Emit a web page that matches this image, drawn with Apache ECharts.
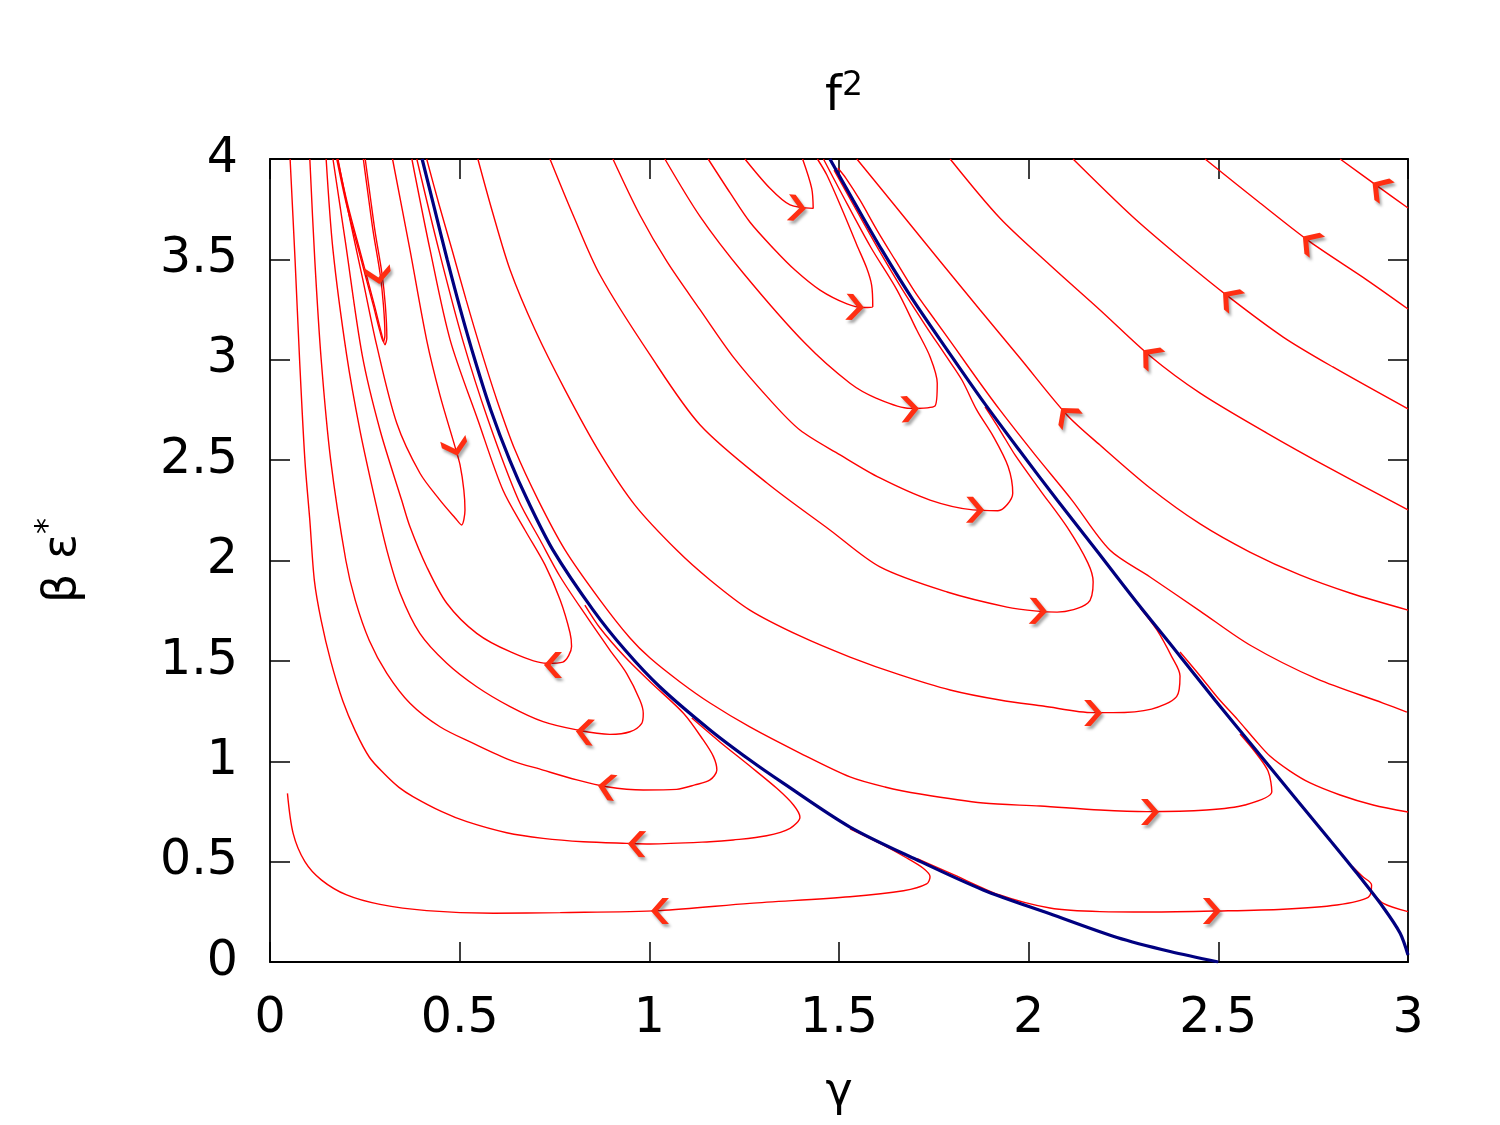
<!DOCTYPE html>
<html>
<head>
<meta charset="UTF-8">
<title>f2 flow</title>
<script src="https://cdn.jsdelivr.net/npm/echarts@6/dist/echarts.min.js"></script>
<style>
  html, body { margin: 0; padding: 0; background: #fff; }
  #main { width: 1500px; height: 1125px; }
</style>
</head>
<body>
<div id="main"></div>
<script>
// axis ticks
var xTicks = [0, 0.5, 1, 1.5, 2, 2.5, 3];
var yTicks = [0, 0.5, 1, 1.5, 2, 2.5, 3, 3.5, 4];

// separatrices (blue)
var sepLeft = [[0.401,4.0],[0.434,3.75],[0.467,3.5],[0.502,3.25],[0.540,3.0],[0.582,2.75],[0.632,2.5],[0.679,2.3],[0.746,2.052],[0.852,1.753],[0.936,1.554],[1.028,1.370],[1.160,1.156],[1.265,1.006],[1.352,0.892],[1.529,0.672],[1.706,0.508],[1.880,0.359],[2.056,0.240],[2.233,0.122],[2.373,0.052],[2.5,0.0]];
var sepRight = [[1.476,4.0],[1.537,3.796],[1.613,3.547],[1.695,3.298],[1.785,3.049],[1.877,2.800],[1.975,2.550],[2.075,2.301],[2.178,2.052],[2.280,1.803],[2.386,1.554],[2.491,1.305],[2.599,1.056],[2.707,0.807],[2.794,0.608],[2.865,0.443],[2.934,0.274],[2.979,0.144],[3.0,0.035]];

// trajectories left of the first separatrix
var trajL1 = [[0.176,4.0],[0.202,3.771],[0.237,3.522],[0.272,3.273],[0.290,3.140],[0.299,3.090],[0.303,3.123],[0.299,3.273],[0.290,3.431],[0.272,3.638],[0.259,3.817],[0.246,4.0]];
var trajL1b = [[0.178,4.0],[0.205,3.771],[0.240,3.522],[0.275,3.273],[0.294,3.130],[0.303,3.075],[0.308,3.110],[0.304,3.273],[0.295,3.431],[0.277,3.638],[0.264,3.817],[0.251,4.0]];
var trajL2 = [[0.179,4.0],[0.211,3.696],[0.245,3.397],[0.281,3.074],[0.334,2.685],[0.395,2.436],[0.448,2.301],[0.488,2.212],[0.505,2.177],[0.514,2.252],[0.511,2.351],[0.501,2.476],[0.488,2.565],[0.448,2.824],[0.413,3.098],[0.369,3.547],[0.323,4.0]];
var trajL3 = [[0.166,4.0],[0.198,3.597],[0.243,3.024],[0.290,2.650],[0.347,2.301],[0.369,2.168],[0.413,1.969],[0.466,1.787],[0.545,1.637],[0.633,1.546],[0.729,1.488],[0.772,1.494],[0.795,1.571],[0.791,1.639],[0.765,1.803],[0.725,1.978],[0.672,2.152],[0.614,2.351],[0.548,2.700],[0.475,3.098],[0.422,3.547],[0.374,4.0]];
var trajL4 = [[0.148,4.0],[0.166,3.547],[0.202,3.024],[0.237,2.650],[0.277,2.301],[0.308,2.052],[0.343,1.837],[0.395,1.637],[0.466,1.488],[0.545,1.371],[0.633,1.272],[0.720,1.197],[0.809,1.156],[0.896,1.134],[0.949,1.147],[0.980,1.189],[0.984,1.239],[0.975,1.305],[0.940,1.438],[0.896,1.554],[0.835,1.720],[0.765,1.919],[0.712,2.102],[0.655,2.301],[0.575,2.700],[0.508,3.098],[0.445,3.547],[0.387,4.0]];
var trajL5 = [[0.105,4.0],[0.118,3.5],[0.135,3.0],[0.160,2.5],[0.200,2.0],[0.225,1.8],[0.262,1.6],[0.308,1.438],[0.369,1.289],[0.448,1.172],[0.536,1.089],[0.633,1.006],[0.720,0.956],[0.809,0.907],[0.888,0.873],[0.984,0.857],[1.072,0.860],[1.120,0.882],[1.160,0.907],[1.178,0.956],[1.169,1.023],[1.142,1.106],[1.090,1.239],[1.002,1.396],[0.936,1.519],[0.870,1.664],[0.830,1.778]];
var trajL6 = [[0.053,4.0],[0.066,3.5],[0.078,3.0],[0.092,2.5],[0.105,2.2],[0.117,1.9],[0.135,1.7],[0.160,1.5],[0.192,1.3],[0.225,1.15],[0.262,1.02],[0.300,0.94],[0.340,0.87],[0.378,0.823],[0.453,0.749],[0.519,0.699],[0.624,0.644],[0.720,0.616],[0.826,0.599],[0.940,0.591],[1.002,0.588],[1.160,0.599],[1.221,0.608],[1.309,0.629],[1.371,0.666],[1.397,0.721],[1.380,0.782],[1.336,0.865],[1.265,0.976],[1.186,1.096],[1.112,1.215]];
var trajL7 = [[0.046,0.840],[0.061,0.641],[0.092,0.500],[0.136,0.408],[0.202,0.334],[0.290,0.287],[0.413,0.256],[0.589,0.243],[0.765,0.246],[1.028,0.256],[1.265,0.292],[1.529,0.325],[1.670,0.355],[1.731,0.389],[1.740,0.425],[1.722,0.467],[1.674,0.523],[1.616,0.583],[1.529,0.663]];

// trajectories between the separatrices
var trajM1 = [[1.252,4.0],[1.318,3.854],[1.371,3.771],[1.432,3.754],[1.428,3.854],[1.404,4.0]];
var trajM2 = [[1.155,4.0],[1.213,3.831],[1.265,3.686],[1.326,3.557],[1.384,3.447],[1.450,3.347],[1.521,3.278],[1.563,3.260],[1.589,3.264],[1.586,3.372],[1.573,3.457],[1.547,3.572],[1.511,3.736],[1.468,3.920],[1.443,4.0]];
var trajM3 = [[1.041,4.0],[1.134,3.713],[1.248,3.431],[1.410,3.083],[1.529,2.883],[1.599,2.808],[1.687,2.758],[1.753,2.770],[1.759,2.883],[1.740,3.015],[1.705,3.148],[1.653,3.347],[1.583,3.563],[1.503,3.842],[1.459,4.0]];
var trajM4 = [[0.904,4.0],[0.975,3.721],[1.047,3.487],[1.134,3.248],[1.221,3.014],[1.318,2.800],[1.397,2.650],[1.503,2.526],[1.608,2.411],[1.740,2.301],[1.853,2.252],[1.919,2.248],[1.958,2.335],[1.946,2.467],[1.907,2.617],[1.863,2.750],[1.824,2.899],[1.782,3.019],[1.729,3.168],[1.666,3.353],[1.608,3.537],[1.550,3.731],[1.487,3.945]];
var trajM5 = [[0.738,4.0],[0.799,3.721],[0.870,3.422],[1.002,3.024],[1.134,2.675],[1.310,2.386],[1.476,2.152],[1.608,1.968],[1.785,1.843],[1.943,1.768],[2.022,1.748],[2.075,1.743],[2.156,1.788],[2.170,1.893],[2.156,1.988],[2.101,2.167],[2.030,2.351],[1.964,2.526],[1.924,2.650],[1.885,2.765]];
var trajM6 = [[0.548,4.0],[0.585,3.746],[0.633,3.447],[0.699,3.148],[0.778,2.849],[0.870,2.535],[0.962,2.276],[1.072,2.052],[1.160,1.903],[1.265,1.753],[1.397,1.624],[1.529,1.519],[1.661,1.430],[1.793,1.355],[1.924,1.305],[2.038,1.275],[2.170,1.242],[2.222,1.242],[2.324,1.260],[2.390,1.322],[2.399,1.425],[2.377,1.521],[2.338,1.654],[2.294,1.763]];
var trajM7 = [[0.413,4.0],[0.446,3.771],[0.480,3.547],[0.517,3.298],[0.556,3.049],[0.598,2.800],[0.646,2.550],[0.707,2.301],[0.778,2.052],[0.870,1.803],[0.949,1.614],[1.002,1.514],[1.081,1.395],[1.160,1.290],[1.265,1.171],[1.397,1.041],[1.529,0.922],[1.621,0.872],[1.714,0.837],[1.880,0.792],[2.030,0.777],[2.188,0.757],[2.311,0.749],[2.469,0.757],[2.570,0.782],[2.641,0.848],[2.631,0.951],[2.597,1.046],[2.557,1.136]];
var trajM8 = [[1.706,0.515],[1.793,0.443],[1.924,0.334],[2.056,0.269],[2.188,0.251],[2.320,0.249],[2.496,0.254],[2.671,0.263],[2.812,0.284],[2.895,0.322],[2.904,0.384],[2.881,0.425],[2.854,0.475]];

// trajectories right of the second separatrix
var trajR1 = [[3.0,0.251],[2.935,0.292],[2.904,0.351],[2.878,0.408]];
var trajR2 = [[3.0,0.747],[2.908,0.782],[2.821,0.832],[2.742,0.892],[2.689,0.951],[2.636,1.026],[2.597,1.106],[2.552,1.205],[2.499,1.315],[2.452,1.425],[2.399,1.544]];
var trajR3 = [[2.997,1.245],[2.934,1.290],[2.760,1.410],[2.583,1.579],[2.452,1.748],[2.320,1.918],[2.214,2.052],[2.114,2.301],[2.017,2.526],[1.924,2.750],[1.866,2.899],[1.806,3.059],[1.753,3.198],[1.700,3.338],[1.648,3.497],[1.600,3.646],[1.555,3.796],[1.518,3.905],[1.497,3.955]];
var trajR4 = [[1.547,4.0],[1.661,3.736],[1.766,3.492],[1.872,3.248],[1.977,3.009],[2.101,2.725],[2.188,2.575],[2.320,2.361],[2.452,2.182],[2.583,2.042],[2.715,1.928],[2.847,1.838],[3.0,1.753]];
var trajR5 = [[1.793,4.0],[1.924,3.706],[2.056,3.472],[2.188,3.248],[2.320,3.019],[2.452,2.834],[2.628,2.635],[2.802,2.451],[3.0,2.252]];
var trajR6 = [[2.117,4.0],[2.275,3.711],[2.407,3.497],[2.531,3.308],[2.671,3.113],[2.802,2.964],[3.0,2.755]];
var trajR7 = [[2.465,4.0],[2.610,3.781],[2.742,3.587],[2.892,3.397],[3.0,3.253]];
var trajR8 = [[2.821,4.0],[2.926,3.856],[3.0,3.756]];

// arrow heads: [gamma, beta, direction in degrees]
var arrowsLeft = [[0.285,3.422,-82],[0.488,2.565,-75],[0.746,1.479,180],[0.830,1.146,175],[0.888,0.872,172],[0.967,0.588,178],[1.028,0.254,180]];
var arrowsMid = [[1.389,3.756,-5],[1.542,3.262,-3],[1.687,2.755,3],[1.859,2.252,-1],[2.025,1.748,-2],[2.170,1.240,0],[2.320,0.747,0],[2.483,0.254,0]];
var arrowsRight = [[2.101,2.725,129],[2.320,3.019,140],[2.531,3.308,142],[2.742,3.587,144],[2.926,3.856,145]];

var redCurves = [trajL1, trajL1b, trajL2, trajL3, trajL4, trajL5, trajL6, trajL7,
                 trajM1, trajM2, trajM3, trajM4, trajM5, trajM6, trajM7, trajM8,
                 trajR1, trajR2, trajR3, trajR4, trajR5, trajR6, trajR7, trajR8];
var blueCurves = [sepLeft, sepRight];
var arrows = arrowsLeft.concat(arrowsMid, arrowsRight);

var font = 'DejaVu Sans';
var chart = echarts.init(document.getElementById('main'));

var series = [];
redCurves.forEach(function (c) {
    series.push({
        type: 'line', data: c, showSymbol: false, smooth: 0.3, silent: true,
        lineStyle: { color: '#ff0000', width: 1.4 }, z: 2
    });
});
blueCurves.forEach(function (c) {
    series.push({
        type: 'line', data: c, showSymbol: false, smooth: 0.3, silent: true,
        lineStyle: { color: '#000080', width: 3.2 }, z: 3
    });
});
// arrow heads (chevron pointing right, rotated per point)
series.push({
    type: 'scatter', silent: true, z: 4,
    symbol: 'path://M0,0 L7,0 L19,13 L7,26 L0,26 L12,13 Z',
    symbolSize: [18, 26],
    itemStyle: {
        color: '#ff2e12', opacity: 1, shadowBlur: 3, shadowColor: 'rgba(0,0,0,0.35)',
        shadowOffsetX: 2, shadowOffsetY: 3
    },
    data: arrows.map(function (a) {
        return { value: [a[0], a[1]], symbolRotate: a[2] };
    })
});

function valueAxis(pos, ticks, show, margin) {
    return {
        type: 'value', position: pos,
        min: ticks[0], max: ticks[ticks.length - 1], interval: ticks[1] - ticks[0],
        axisLine: { show: true, onZero: false, lineStyle: { color: '#000', width: 1.8 } },
        axisTick: { show: true, inside: true, length: 20, lineStyle: { color: '#000', width: 1.5 } },
        axisLabel: { show: show, fontSize: 49, fontFamily: font, color: '#000', margin: margin },
        splitLine: { show: false }
    };
}

var xBottom = valueAxis('bottom', xTicks, true, 33);
xBottom.name = 'γ';
xBottom.nameLocation = 'middle';
xBottom.nameGap = 108;
xBottom.nameTextStyle = { fontSize: 46, fontFamily: font, color: '#000' };
var yLeft = valueAxis('left', yTicks, true, 32);
yLeft.name = '{a|β ε}{s|*}';
yLeft.nameLocation = 'middle';
yLeft.nameGap = 177;
yLeft.nameRotate = 90;
yLeft.nameTextStyle = {
    rich: {
        a: { fontSize: 46, fontFamily: font, color: '#000', lineHeight: 60 },
        s: { fontSize: 32, fontFamily: font, color: '#000', verticalAlign: 'top', lineHeight: 32 }
    }
};

chart.setOption({
    animation: false,
    backgroundColor: '#fff',
    title: {
        text: '{f|f}{s|2}', left: 820, top: 65,
        textStyle: {
            fontWeight: 'normal',
            rich: {
                f: { fontSize: 48, fontFamily: font, fontWeight: 'normal', color: '#000', lineHeight: 56 },
                s: { fontSize: 33, fontFamily: font, fontWeight: 'normal', color: '#000', verticalAlign: 'top', lineHeight: 32 }
            }
        }
    },
    grid: { left: 270, right: 92, top: 159, bottom: 163, containLabel: false },
    xAxis: [xBottom, valueAxis('top', xTicks, false, 8)],
    yAxis: [yLeft, valueAxis('right', yTicks, false, 8)],
    series: series
});
</script>
</body>
</html>
